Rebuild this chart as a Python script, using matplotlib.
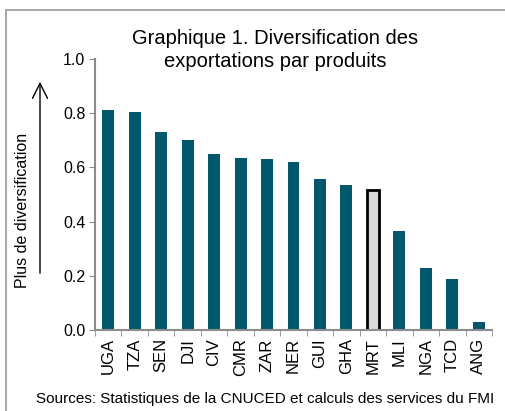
import matplotlib.pyplot as plt
from matplotlib.patches import Rectangle, FancyArrowPatch
import numpy as np

plt.rcParams['font.family'] = ['Liberation Sans', 'DejaVu Sans']

countries = ["UGA", "TZA", "SEN", "DJI", "CIV", "CMR", "ZAR", "NER",
             "GUI", "GHA", "MRT", "MLI", "NGA", "TCD", "ANG"]
values = [0.81, 0.805, 0.73, 0.70, 0.648, 0.636, 0.63, 0.619,
          0.557, 0.536, 0.515, 0.367, 0.228, 0.19, 0.03]
yticks = [0.0, 0.2, 0.4, 0.6, 0.8, 1.0]

teal = '#02576A'
grey = '#8C8C8C'

fig = plt.figure(figsize=(5.05, 4.11), dpi=100)
ax = fig.add_axes([95 / 505, 81 / 411, 397 / 505, 271 / 411])

x = np.arange(len(countries))
colors = [teal] * len(countries)
edges = [teal] * len(countries)
lws = [0] * len(countries)
i = countries.index("MRT")
colors[i] = '#D9D9D9'
edges[i] = 'black'
lws[i] = 2
ax.bar(x, values, width=0.45, color=colors, edgecolor=edges, linewidth=lws)

ax.set_xlim(-0.5, len(countries) - 0.5)
ax.set_ylim(0, 1.0)
ax.set_yticks(yticks)
ax.set_yticklabels([f"{v:.1f}" for v in yticks], fontsize=11.5)
ax.set_xticks(x)
ax.set_xticklabels(countries, rotation=90, fontsize=12)
ax.set_xticks(np.arange(-0.5, len(countries), 1), minor=True)
ax.tick_params(axis='x', which='major', length=0, pad=6)
ax.tick_params(axis='x', which='minor', length=4, color=grey, direction='out')
ax.tick_params(axis='y', length=4, color=grey, direction='out', pad=3)

for s in ['top', 'right']:
    ax.spines[s].set_visible(False)
for s in ['left', 'bottom']:
    ax.spines[s].set_color(grey)
    ax.spines[s].set_linewidth(1.5)

fig.text(275 / 505, 1 - 50 / 411, "Graphique 1. Diversification des\nexportations par produits",
         ha='center', va='center', fontsize=14.5, linespacing=1.3)

fig.text(23 / 505, 1 - 210 / 411, "Plus de diversification", rotation=90,
         ha='center', va='center', fontsize=11.5)
fig.patches.append(FancyArrowPatch(
    (40 / 505, 1 - 276 / 411), (40 / 505, 1 - 79 / 411),
    transform=fig.transFigure, arrowstyle='->,head_length=0.6,head_width=0.3',
    mutation_scale=18, color='black', linewidth=1))

fig.text(265 / 505, 1 - 399 / 411, "Sources: Statistiques de la CNUCED et calculs des services du FMI",
         ha='center', va='center', fontsize=11)

fig.patches.append(Rectangle((6 / 505, -0.1), 1.1, 1 - 10 / 411 + 0.1,
                             transform=fig.transFigure, fill=False,
                             edgecolor='#999999', linewidth=1.2))

fig.savefig('out.png', dpi=100)
